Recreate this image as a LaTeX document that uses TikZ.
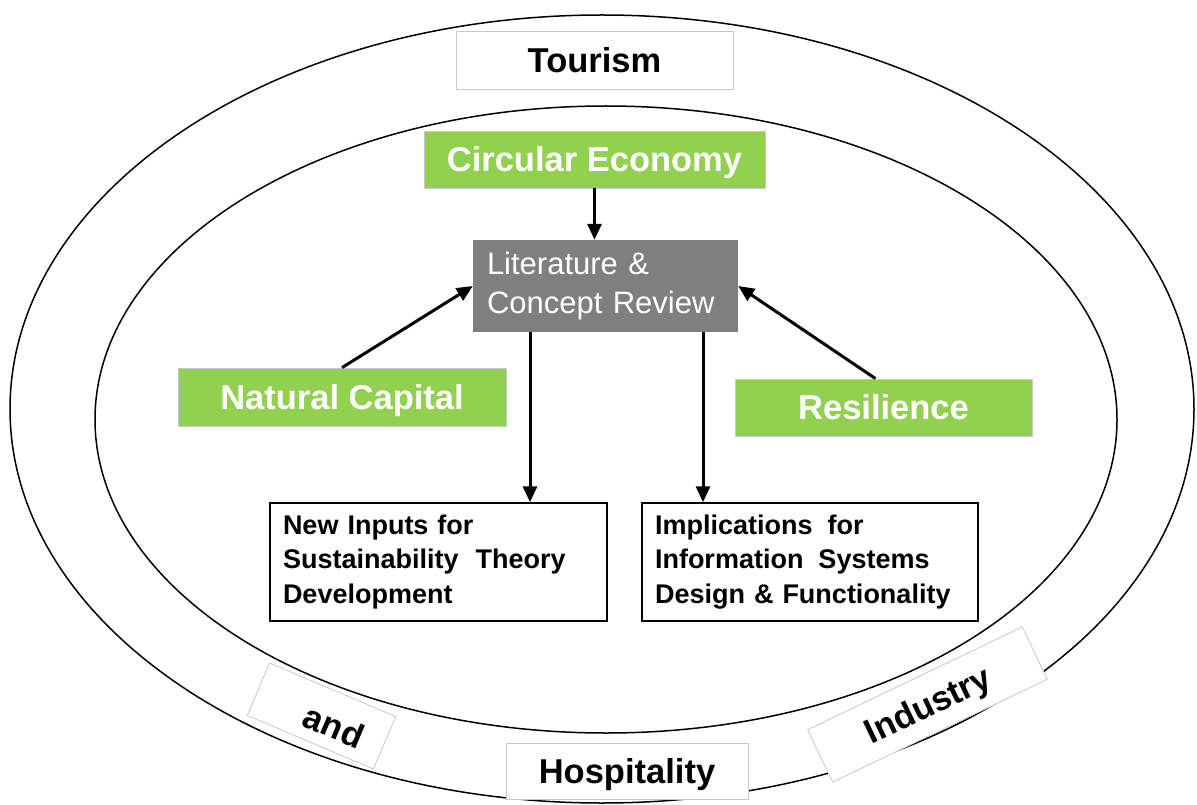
\documentclass[tikz,border=0pt]{standalone}
\usepackage{fontspec}
\setmainfont{Liberation Sans}
\usetikzlibrary{arrows.meta}
\definecolor{cegreen}{HTML}{92D050}
\definecolor{revgray}{HTML}{7F7F7F}
\definecolor{lightframe}{HTML}{C8C8C8}
\begin{document}
\begin{tikzpicture}[x=1pt,y=-1pt,
  ring/.style={draw=black, line width=1.5pt},
  bigfont/.style={font=\fontsize{34.5}{40}\selectfont\bfseries, text height=24.5pt, text depth=0pt},
  greenbox/.style={bigfont, draw=lightframe, line width=0.8pt, fill=cegreen, text=white, inner sep=0pt},
  framebox/.style={bigfont, draw=lightframe, line width=0.8pt, fill=white, inner sep=0pt},
  outbox/.style={draw=black, line width=1.5pt, fill=white, font=\fontsize{27}{34.5}\selectfont\bfseries, align=left, inner xsep=13pt, inner ysep=0pt, minimum height=118pt},
  reviewbox/.style={fill=revgray, text=white, font=\fontsize{31}{39}\selectfont, align=left, inner xsep=14pt, inner ysep=0pt, minimum height=92pt},
  arr/.style={line width=3pt, -{Triangle[length=16pt,width=14pt]}}
]
\useasboundingbox (0,0) rectangle (1197,805);

% rings
\path[ring] (602,409) ellipse [x radius=592, y radius=394];
\path[ring] (606,419.5) ellipse [x radius=511, y radius=313.5];

% outer ring labels
\node[framebox, minimum width=277pt, minimum height=58pt] (tour) at (594.5,60) {Tourism};
\node[framebox, minimum width=242pt, minimum height=56pt] (hosp) at (627,771) {Hospitality};
\node[framebox, minimum width=137pt, minimum height=57pt, rotate=-23] (andbox) at (321.5,716) {};
\node[bigfont, rotate=-23, inner sep=0pt] (andtext) at (334,726) {and};
\node[framebox, minimum width=238pt, minimum height=58pt, rotate=25.6] (ind) at (927.5,704.5) {Industry};

% concepts
\node[greenbox, minimum width=341pt, minimum height=57pt] (ce) at (594.5,159.5) {Circular Economy};
\node[greenbox, minimum width=328pt, minimum height=58pt] (nc) at (342,397) {Natural Capital};
\node[greenbox, minimum width=297pt, minimum height=57pt] (rs) at (883.5,407.5) {Resilience};

\node[reviewbox, text width=237pt] (lc) at (605.5,286) {Literature \&\\Concept Review};

\node[outbox, text width=311pt] (ni) at (438.5,562) {New Inputs for\\Sustainability\hspace{8pt} Theory\\Development};
\node[outbox, text width=310pt] (im) at (810,562) {Implications\hspace{6pt} for\\Information\hspace{6pt} Systems\\Design \& Functionality};

% connectors
\draw[arr] (ce.south) -- (ce.south |- lc.north);
\draw[arr] (nc.north) -- (lc.west);
\draw[arr] ([xshift=-8pt]rs.north) -- (lc.east);
\draw[arr] ([xshift=-75.5pt]lc.south) -- ([xshift=-75.5pt]lc.south |- ni.north);
\draw[arr] ([xshift=97.5pt]lc.south) -- ([xshift=97.5pt]lc.south |- im.north);
\end{tikzpicture}
\end{document}
